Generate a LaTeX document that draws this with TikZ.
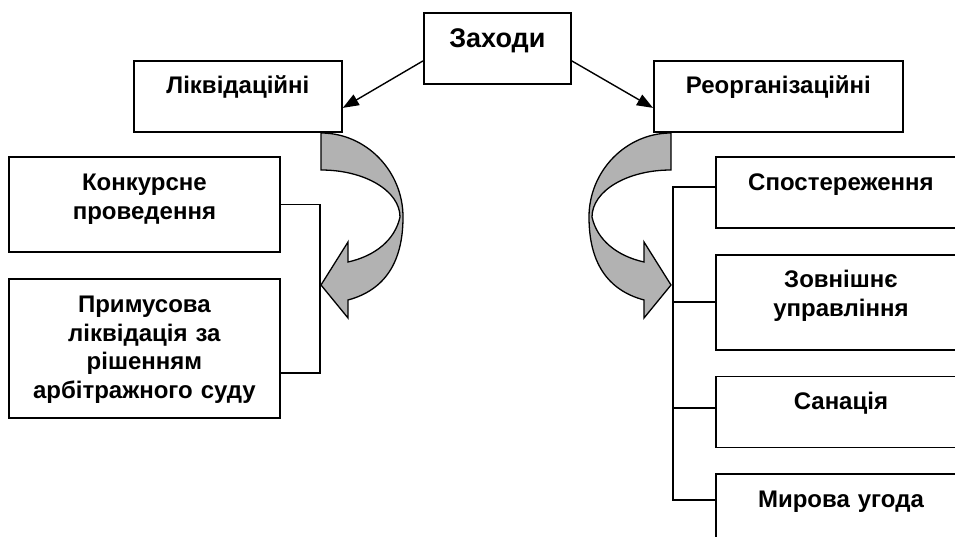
\documentclass[tikz,border=0pt]{standalone}
\usepackage{fontspec}
\setmainfont{Liberation Sans}
\usepackage{xcolor}
\definecolor{lineDark}{HTML}{000000}
\definecolor{twistFill}{HTML}{B2B2B2}
\usepackage{tikz}
\usetikzlibrary{positioning,arrows.meta}
\tikzset{%
  stepBox/.style={%
    rectangle,
    draw=lineDark,
    line width=1.8pt,
    fill=white,
    inner sep=0pt,
    align=center,
    font=\fontsize{24pt}{28.5pt}\selectfont\bfseries,
    text height=33pt
  },
  boxSize/.style 2 args={%
    text width=#1,
    text depth=#2
  },
  arrowLine/.style={%
    -{Triangle[length=16pt,width=12pt]},
    line width=1.4pt,
    color=lineDark
  },
  bracketLine/.style={%
    line width=1.5pt,
    color=lineDark
  },
  twistArrow/.style={%
    draw=lineDark,
    fill=twistFill,
    line width=1.3pt
  }
}
\begin{document}
\begin{tikzpicture}[x=1pt,y=-1pt]
  \useasboundingbox (0,0) rectangle (955,537);

  % top level
  \node[stepBox, boxSize={147pt}{36pt}, text height=35pt,
        font=\fontsize{27pt}{30pt}\selectfont\bfseries,
        anchor=north west] (zakh) at (423,12) {Заходи};
  \node[stepBox, boxSize={208pt}{38pt}, anchor=north west] (likv) at (133,60) {Ліквідаційні};
  \node[stepBox, boxSize={249pt}{38pt}, anchor=north west] (reorg) at (653,60) {Реорганізаційні};

  \draw[arrowLine] ([yshift=-12.5pt]zakh.west) -- ([yshift=-11.5pt]likv.east);
  \draw[arrowLine] ([yshift=-12.5pt]zakh.east) -- ([yshift=-11.5pt]reorg.west);

  % left branch
  \node[stepBox, boxSize={271pt}{61pt}, text height=34pt, anchor=north west] (konk) at (8,156) {Конкурсне\\проведення};
  \node[stepBox, boxSize={271pt}{105pt}, text height=34pt, below=25pt of konk] (prim) {Примусова\\ліквідація за\\рішенням\\арбітражного суду};

  \coordinate (lbar) at (320,373);
  \draw[bracketLine] (konk.east) -| (lbar) -- (lbar -| prim.east);

  % right branch
  \node[stepBox, boxSize={250pt}{37pt}, text height=34pt, anchor=north west] (spost) at (715,156) {Спостереження};
  \node[stepBox, boxSize={250pt}{62pt}, below=25pt of spost] (zovn) {Зовнішнє\\управління};
  \node[stepBox, boxSize={250pt}{38pt}, below=25pt of zovn] (san) {Санація};
  \node[stepBox, boxSize={250pt}{43pt}, below=25pt of san] (myr) {Мирова угода};

  \coordinate (rtop) at (673,187);
  \coordinate (rbot) at (673,500);
  \draw[bracketLine] (rtop -| spost.west) -- (rtop) -- (rbot) -- (rbot -| myr.west);
  \draw[bracketLine] (zovn.west) -- (zovn.west -| rtop);
  \draw[bracketLine] ([yshift=4pt]san.west) -- ([yshift=4pt]san.west -| rtop);

  % twisted arrows
  \draw[twistArrow] (321,133) .. controls (366,133) and (403,171) .. (403,217)
    .. controls (403,262) and (385,290) .. (348,300) -- (348,318) -- (321,285)
    -- (348,242) -- (348,262) .. controls (375,256) and (395,240) .. (400,217)
    .. controls (400,191) and (365,170) .. (321,170) -- cycle;
  \draw[twistArrow] (671,133) .. controls (626,133) and (589,171) .. (589,217)
    .. controls (589,262) and (607,290) .. (644,300) -- (644,318) -- (671,285)
    -- (644,242) -- (644,262) .. controls (617,256) and (597,240) .. (592,217)
    .. controls (592,191) and (627,170) .. (671,170) -- cycle;
\end{tikzpicture}
\end{document}
